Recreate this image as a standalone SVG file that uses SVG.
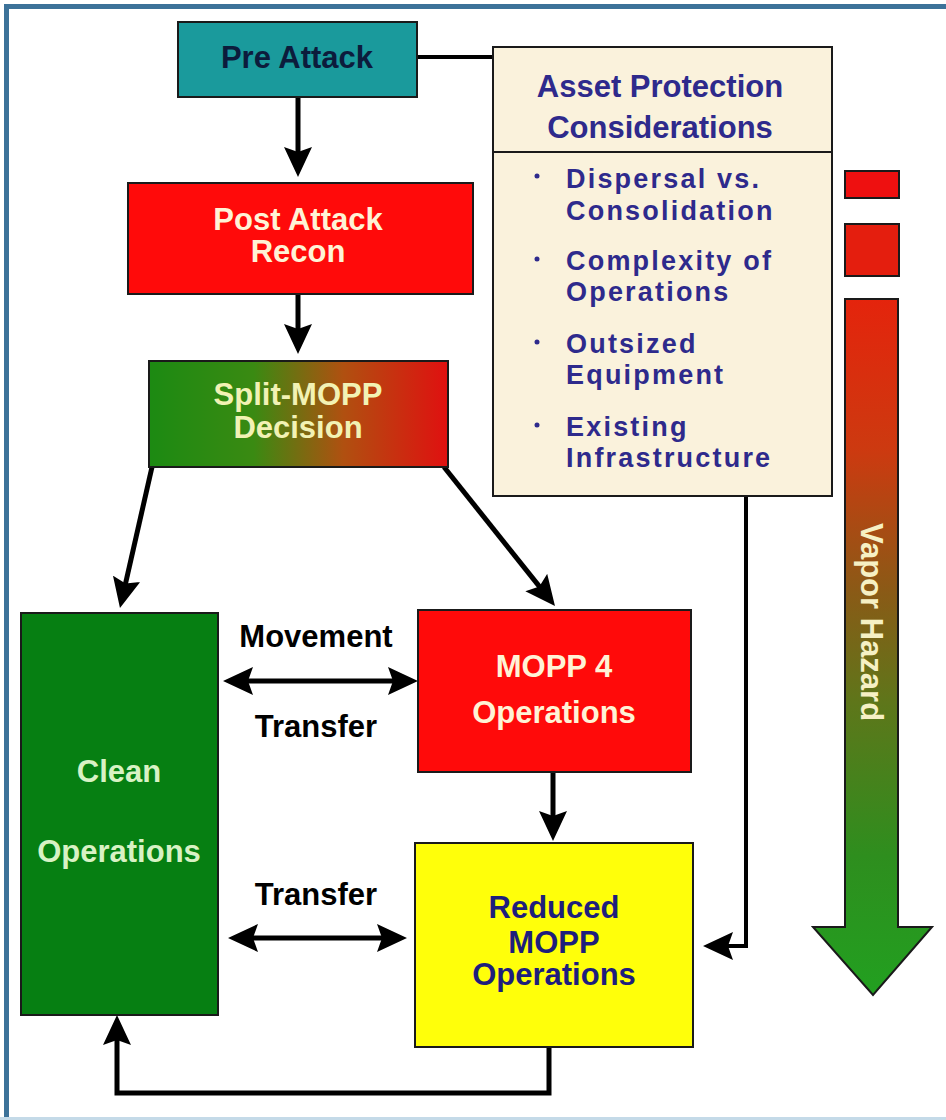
<svg xmlns="http://www.w3.org/2000/svg" width="946" height="1120" viewBox="0 0 946 1120">
<style>
  text { font-family: "Liberation Sans", Arial, sans-serif; font-weight: bold; font-size: 31px; }
  .box { stroke: #1a1a1a; stroke-width: 2; }
  .c { text-anchor: middle; }
  .navy { fill: #2e2a8c; }
  .bul { font-size: 27px; letter-spacing: 2.2px; }
  .cream { fill: #fff3d6; }
  .conn { fill: none; stroke: #000; stroke-width: 5; }
  .thin { fill: none; stroke: #000; stroke-width: 4; }
</style>
<defs>
  <linearGradient id="gSplit" x1="0" y1="0" x2="1" y2="0">
    <stop offset="0" stop-color="#1c8a12"/>
    <stop offset="0.35" stop-color="#3a8a12"/>
    <stop offset="0.65" stop-color="#b05010"/>
    <stop offset="1" stop-color="#e01010"/>
  </linearGradient>
  <linearGradient id="gVapor" gradientUnits="userSpaceOnUse" x1="0" y1="299" x2="0" y2="995">
    <stop offset="0" stop-color="#e4240c"/>
    <stop offset="0.22" stop-color="#cc3a10"/>
    <stop offset="0.42" stop-color="#8a5a16"/>
    <stop offset="0.58" stop-color="#5e761a"/>
    <stop offset="0.8" stop-color="#2e8e1e"/>
    <stop offset="1" stop-color="#22a020"/>
  </linearGradient>
  <marker id="ah" markerUnits="userSpaceOnUse" markerWidth="30" markerHeight="28" refX="10" refY="14" orient="auto-start-reverse" viewBox="0 0 30 28">
    <path d="M0,0 L30,14 L0,28 L5,14 z" fill="#000"/>
  </marker>
</defs>

<rect width="946" height="1120" fill="#ffffff"/>
<path d="M6.5,1120 V6.5 H946" fill="none" stroke="#3c7299" stroke-width="5"/>
<rect x="0" y="1117" width="946" height="3" fill="#c4dae8"/>

<g id="connectors">
  <line class="thin" x1="417" y1="57" x2="493" y2="57"/>
  <line class="conn" x1="298" y1="97" x2="298" y2="157" marker-end="url(#ah)"/>
  <line class="conn" x1="298" y1="294" x2="298" y2="334" marker-end="url(#ah)"/>
  <line class="conn" stroke-width="7" x1="152" y1="467" x2="124.4" y2="588.5" marker-end="url(#ah)"/>
  <line class="conn" stroke-width="7" x1="444" y1="467" x2="542.5" y2="590.4" marker-end="url(#ah)"/>
  <line class="conn" x1="243" y1="681" x2="398" y2="681" marker-start="url(#ah)" marker-end="url(#ah)"/>
  <line class="conn" stroke-width="7" x1="248" y1="938" x2="387" y2="938" marker-start="url(#ah)" marker-end="url(#ah)"/>
  <line class="conn" x1="553" y1="772" x2="553" y2="821" marker-end="url(#ah)"/>
  <polyline class="thin" points="746,496 746,946 723,946" marker-end="url(#ah)"/>
  <polyline class="conn" points="549,1047 549,1093 117,1093 117,1035" marker-end="url(#ah)"/>
</g>

<g id="pre-attack">
  <rect class="box" x="178" y="22" width="239" height="75" fill="#1a9a9c"/>
  <text class="c" x="297" y="68" fill="#0c1c3c">Pre Attack</text>
</g>

<g id="post-attack-recon">
  <rect class="box" x="128" y="183" width="345" height="111" fill="#ff0a0a"/>
  <text class="c cream" x="298" y="230">Post Attack</text>
  <text class="c cream" x="298" y="262">Recon</text>
</g>

<g id="split-mopp">
  <rect class="box" x="149" y="361" width="299" height="106" fill="url(#gSplit)"/>
  <text class="c" x="298" y="405" fill="#f2f2b4">Split-MOPP</text>
  <text class="c" x="298" y="438" fill="#f2f2b4">Decision</text>
</g>

<g id="asset-protection">
  <rect class="box" x="493" y="47" width="339" height="449" fill="#faf2dc"/>
  <line x1="493" y1="152" x2="832" y2="152" stroke="#1a1a1a" stroke-width="2"/>
  <text class="c navy" x="660" y="97">Asset Protection</text>
  <text class="c navy" x="660" y="138">Considerations</text>
  <g class="navy">
    <circle cx="537" cy="176" r="2.5"/>
    <circle cx="537" cy="259" r="2.5"/>
    <circle cx="537" cy="342" r="2.5"/>
    <circle cx="537" cy="425" r="2.5"/>
  </g>
  <text class="navy bul" x="566" y="188">Dispersal vs.</text>
  <text class="navy bul" x="566" y="220">Consolidation</text>
  <text class="navy bul" x="566" y="270">Complexity of</text>
  <text class="navy bul" x="566" y="301">Operations</text>
  <text class="navy bul" x="566" y="353">Outsized</text>
  <text class="navy bul" x="566" y="384">Equipment</text>
  <text class="navy bul" x="566" y="436">Existing</text>
  <text class="navy bul" x="566" y="467">Infrastructure</text>
</g>

<g id="vapor-hazard">
  <rect class="box" x="845" y="171" width="54" height="27" fill="#ee1010"/>
  <rect class="box" x="845" y="224" width="54" height="52" fill="#e41e0e"/>
  <polygon class="box" points="845,299 898,299 898,927 932,927 873,995 813,927 845,927" fill="url(#gVapor)"/>
  <text class="c" transform="translate(861,622) rotate(90)" fill="#f6f0c4">Vapor Hazard</text>
</g>

<g id="clean-operations">
  <rect class="box" x="21" y="613" width="197" height="402" fill="#067f12"/>
  <text class="c" x="119" y="782" fill="#d8f2c4">Clean</text>
  <text class="c" x="119" y="862" fill="#d8f2c4">Operations</text>
</g>

<g id="mopp4">
  <rect class="box" x="418" y="610" width="273" height="162" fill="#ff0a0a"/>
  <text class="c cream" x="554" y="677">MOPP 4</text>
  <text class="c cream" x="554" y="723">Operations</text>
</g>

<g id="reduced-mopp">
  <rect class="box" x="415" y="843" width="278" height="204" fill="#ffff0a"/>
  <text class="c" x="554" y="918" fill="#1e1e7c">Reduced</text>
  <text class="c" x="554" y="953" fill="#1e1e7c">MOPP</text>
  <text class="c" x="554" y="985" fill="#1e1e7c">Operations</text>
</g>

<g id="labels">
  <text class="c" x="316" y="647" fill="#000">Movement</text>
  <text class="c" x="316" y="737" fill="#000">Transfer</text>
  <text class="c" x="316" y="905" fill="#000">Transfer</text>
</g>
</svg>
